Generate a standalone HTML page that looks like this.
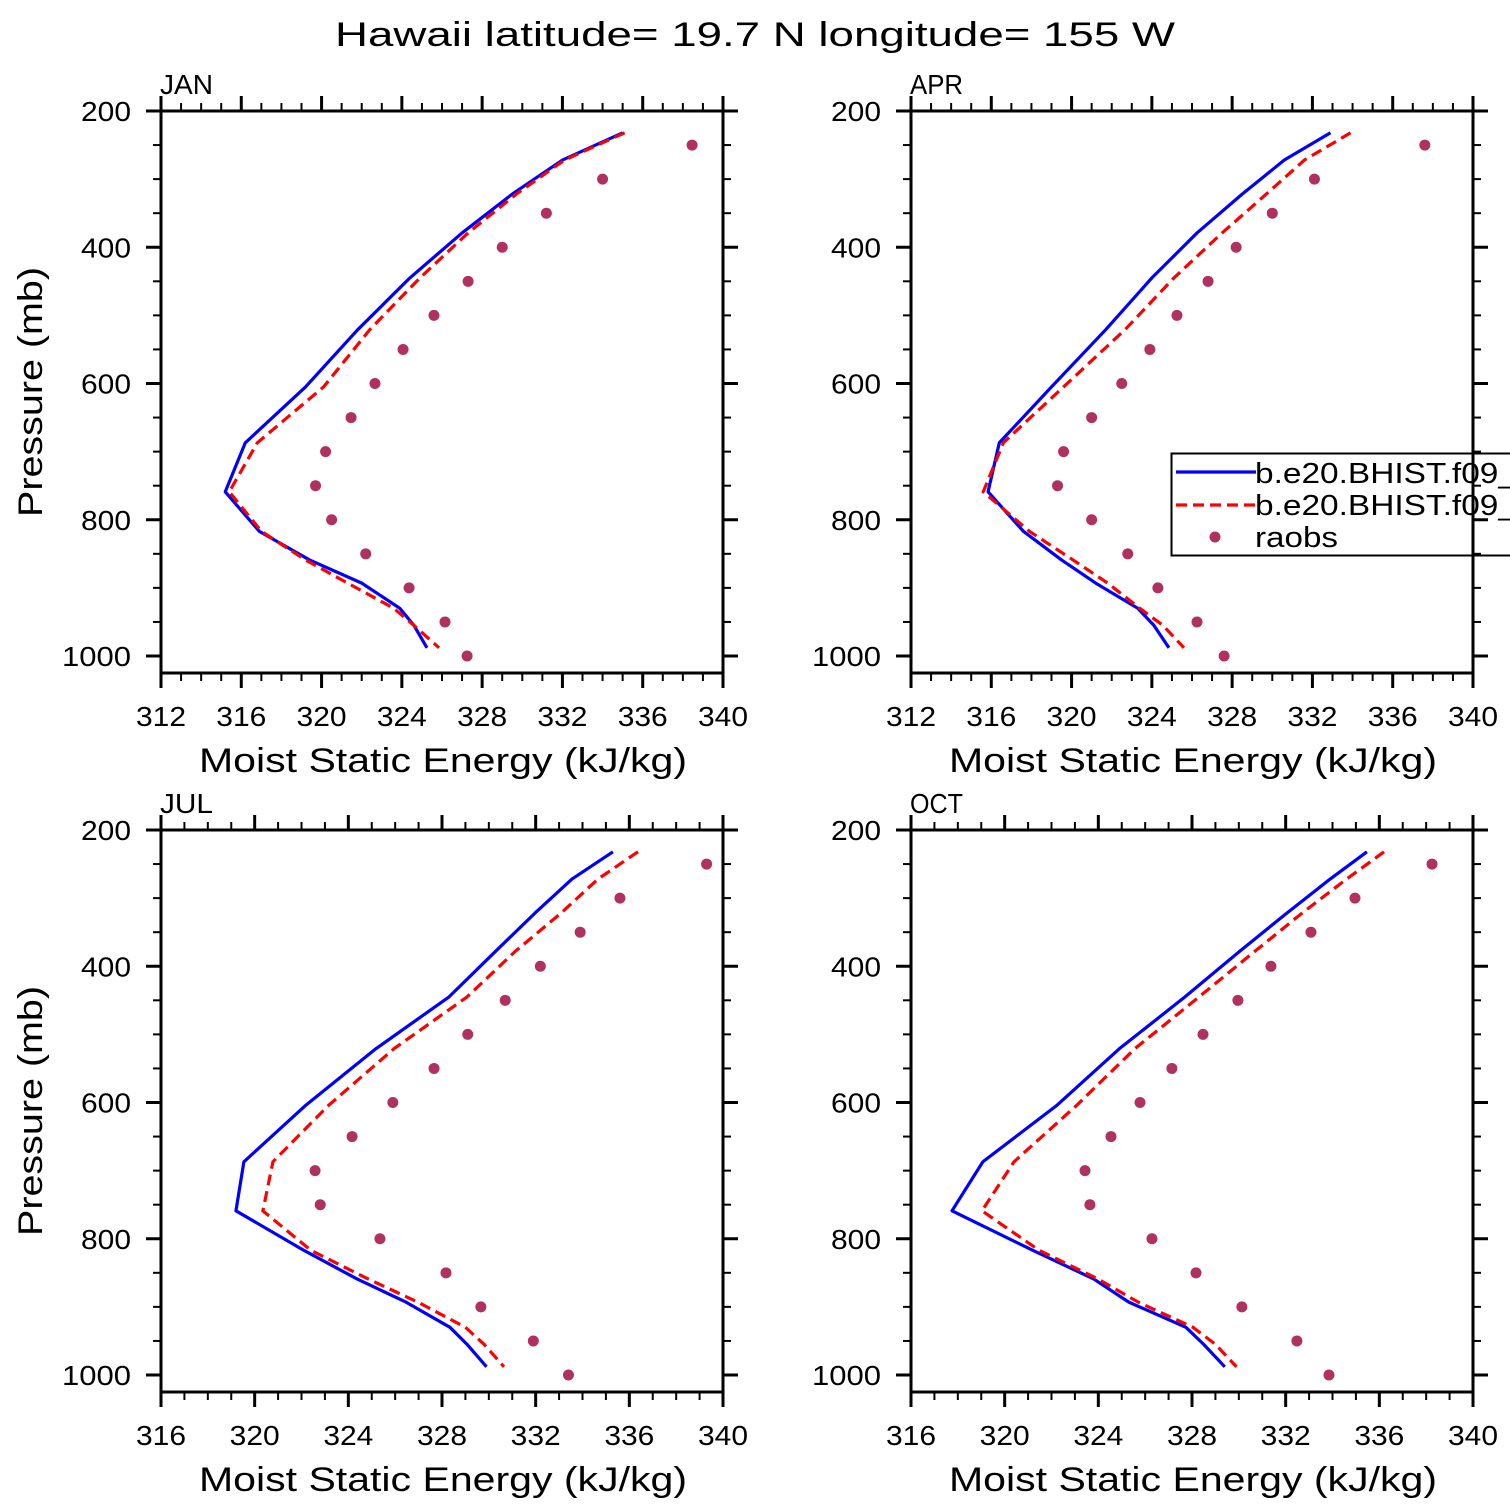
<!DOCTYPE html>
<html><head><meta charset="utf-8"><style>
html,body{margin:0;padding:0;background:#fff;}
svg{display:block;font-family:"Liberation Sans",sans-serif;}
</style></head><body>
<svg id="fig" width="1510" height="1510" viewBox="0 0 1510 1510">
<text x="335" y="46" font-size="34" textLength="840" lengthAdjust="spacingAndGlyphs">Hawaii  latitude= 19.7 N longitude= 155 W</text>
</svg>
<script>
const obsLevels = [250,300,350,400,450,500,550,600,650,700,750,800,850,900,950,1000];
const modelLevels = [232,272,322,379,445,521,605,687,759,817,859,893,930,955,988];
const months = ["JAN","APR","JUL","OCT"];
const janBlue = [335.0,332.0,329.5,327.0,324.4,321.8,319.2,316.2,315.2,316.9,319.4,322.0,323.9,324.6,325.25];
const janRed  = [335.1,332.1,329.7,327.3,324.9,322.4,320.1,316.8,315.4,317.0,319.2,321.3,323.6,324.6,325.85];
const janObs  = [338.46,334.0,331.2,329.0,327.3,325.6,324.06,322.66,321.47,320.2,319.7,320.5,322.2,324.36,326.15,327.25];
const aprBlue = [332.9,330.6,328.5,326.25,324.0,321.7,319.0,316.4,315.84,317.6,319.5,321.2,323.3,324.1,324.85];
const aprRed  = [333.9,331.6,329.7,327.5,325.1,322.66,319.6,316.6,315.6,317.9,320.07,321.8,323.4,324.55,325.6];
const aprObs  = [337.6,332.1,330.0,328.2,326.8,325.25,323.9,322.5,321.0,319.6,319.3,321.0,322.8,324.3,326.25,327.6];
const julBlue = [335.3,333.55,331.97,330.26,328.3,325.18,322.15,319.54,319.2,322.1,324.37,326.46,328.34,329.07,329.9];
const julRed  = [336.37,334.66,333.08,331.1,329.07,325.95,323.13,320.78,320.35,322.4,324.84,326.97,329.0,329.8,330.65];
const julObs  = [339.3,335.6,333.9,332.2,330.7,329.1,327.66,325.9,324.16,322.58,322.8,325.35,328.17,329.66,331.9,333.4];
const octBlue = [335.47,333.9,332.05,330.0,327.7,324.9,322.2,319.07,317.75,321.2,323.8,325.3,327.74,328.5,329.4];
const octRed  = [336.2,334.6,332.7,330.65,328.3,325.56,323.05,320.4,319.03,321.47,323.98,325.7,328.04,329.0,329.9];
const octObs  = [338.25,334.96,333.08,331.37,329.96,328.47,327.14,325.78,324.54,323.43,323.64,326.29,328.17,330.13,332.48,333.85];
const xRanges = [[312,340],[312,340],[316,340],[316,340]];
const yTicks = [200,400,600,800,1000];

const NS="http://www.w3.org/2000/svg";
const svg=document.getElementById('fig');
function mk(tag,attrs,parent){const e=document.createElementNS(NS,tag);for(const k in attrs)e.setAttribute(k,attrs[k]);(parent||svg).appendChild(e);return e;}

const panels=[
 {left:161,top:111,blue:janBlue,red:janRed,obs:janObs},
 {left:911,top:111,blue:aprBlue,red:aprRed,obs:aprObs},
 {left:161,top:830,blue:julBlue,red:julRed,obs:julObs},
 {left:911,top:830,blue:octBlue,red:octRed,obs:octObs}
];
const W=562,H=562,PY=545/800;
const LA='spacingAndGlyphs';

panels.forEach((P,i)=>{
 const g=mk('g',{});
 
 
 const [xmin,xmax]=xRanges[i];
 const sx=v=>P.left+(v-xmin)*W/(xmax-xmin);
 const sy=p=>P.top+(p-200)*PY;
 const bl=mk('polyline',{points:modelLevels.map((p,k)=>sx(P.blue[k])+','+sy(p)).join(' '),fill:'none',stroke:'#0000ff','stroke-width':3.2,'stroke-linejoin':'round'},g);
 
 
 const rl=mk('polyline',{points:modelLevels.map((p,k)=>sx(P.red[k])+','+sy(p)).join(' '),fill:'none',stroke:'#ff0000','stroke-width':3.2,'stroke-dasharray':'11 6'},g);
 
 
 obsLevels.forEach((p,k)=>{
  const c=mk('circle',{cx:sx(P.obs[k]),cy:sy(p),r:5.5,fill:'#b03060'},g);
  
  
 });
 if(i===1){
  const lg=mk('g',{},g);
  
  
  mk('rect',{x:1171.5,y:453.5,width:360,height:102,fill:'#fff',stroke:'#000','stroke-width':2},lg);
  mk('line',{x1:1176,y1:472,x2:1256,y2:472,stroke:'#0000ff','stroke-width':3.2},lg);
  mk('line',{x1:1176,y1:505,x2:1256,y2:505,stroke:'#ff0000','stroke-width':3.2,'stroke-dasharray':'11 6'},lg);
  mk('circle',{cx:1215,cy:537,r:5.5,fill:'#b03060'},lg);
  const t1=mk('text',{x:1255,y:483,'font-size':29,textLength:262,lengthAdjust:LA},lg);t1.textContent='b.e20.BHIST.f09_';
  const t2=mk('text',{x:1255,y:515,'font-size':29,textLength:262,lengthAdjust:LA},lg);t2.textContent='b.e20.BHIST.f09_';
  const t3=mk('text',{x:1255,y:547,'font-size':29,textLength:83,lengthAdjust:LA},lg);t3.textContent='raobs';
 }
 mk('rect',{x:P.left,y:P.top,width:W,height:H,fill:'none',stroke:'#000','stroke-width':3},g);
 for(let v=xmin;v<=xmax;v++){
  const maj=(v-xmin)%4===0, len=maj?15:8, x=sx(v);
  mk('line',{x1:x,y1:P.top+H,x2:x,y2:P.top+H+len,stroke:'#000','stroke-width':maj?3:2},g);
  mk('line',{x1:x,y1:P.top,x2:x,y2:P.top-len,stroke:'#000','stroke-width':maj?3:2},g);
  if(maj){const t=mk('text',{x:x-25,y:P.top+H+53,'font-size':28,textLength:50,lengthAdjust:LA},g);t.textContent=v;
   }
 }
 for(let p=200;p<=1000;p+=50){
  const maj=yTicks.includes(p), len=maj?15:8, y=sy(p);
  mk('line',{x1:P.left,y1:y,x2:P.left-len,y2:y,stroke:'#000','stroke-width':maj?3:2},g);
  mk('line',{x1:P.left+W,y1:y,x2:P.left+W+len,y2:y,stroke:'#000','stroke-width':maj?3:2},g);
  if(maj){const w=p>=1000?69:50;
   const t=mk('text',{x:P.left-30-w,y:y+10,'font-size':28,textLength:w,lengthAdjust:LA},g);t.textContent=p;
   }
 }
 const mt=mk('text',{x:P.left-1,y:P.top-17,'font-size':28,textLength:53,lengthAdjust:LA},g);mt.textContent=months[i];
 
 const xt=mk('text',{x:P.left+38,y:P.top+H+99,'font-size':34,textLength:488,lengthAdjust:LA},g);
 xt.textContent='Moist Static Energy (kJ/kg)';
 
 if(P.left<500){
  const yt=mk('text',{x:-125,y:0,'font-size':34,textLength:250,lengthAdjust:LA,transform:`translate(42,${P.top+281}) rotate(-90)`},g);
  yt.textContent='Pressure (mb)';
  
 }
});
</script>
</body></html>
